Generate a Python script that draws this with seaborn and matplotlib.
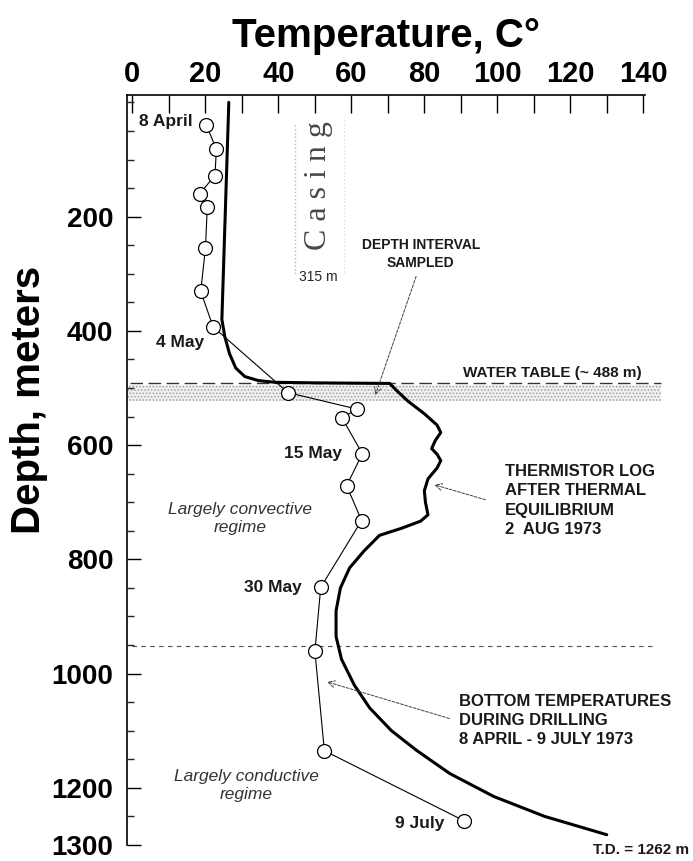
import matplotlib
matplotlib.use('Agg')
import matplotlib.pyplot as plt
import pandas as pd
import seaborn as sns
from matplotlib.ticker import MultipleLocator, FixedLocator

# bottom-hole temperatures measured while drilling (open circles)
drill_temp = [20.2, 23.0, 22.6, 18.4, 20.5, 20.0, 18.7, 22.1, 42.6, 61.6, 57.4,
              63.0, 58.7, 62.8, 51.6, 50.0, 52.6, 91.0]
drill_depth = [39, 82, 128, 160, 183, 255, 331, 393, 508, 537, 552,
               615, 671, 732, 849, 961, 1135, 1258]

# thermistor log after thermal equilibrium (thick line)
therm_temp = [26.4, 25.9, 25.4, 24.9, 24.5, 25.3, 26.6, 28.3, 30.8, 34.5, 39, 50,
              70.5, 72.5, 75.5, 80, 83.5, 84.5, 83, 82, 83.5, 84.5, 83.5, 81, 80,
              80.3, 81, 79, 74, 67.7, 63.5, 59.5, 57, 55.8, 55.8, 57.3, 60.8, 65,
              71, 78, 87, 99, 113, 130]
therm_depth = [0, 100, 200, 300, 380, 410, 440, 465, 480, 487, 490, 491,
               492, 505, 523, 545, 565, 578, 592, 606, 616, 627, 640, 659, 680,
               700, 722, 733, 745, 758, 785, 815, 850, 890, 935, 975, 1020, 1060,
               1100, 1135, 1175, 1215, 1250, 1282]

x_ticks = [0, 20, 40, 60, 80, 100, 120, 140]
y_ticks = [200, 400, 600, 800, 1000, 1200, 1300]

water_table = 491
sample_limit = 952

sns.set_theme(style='ticks')
plt.rcParams['font.family'] = ['Liberation Sans', 'DejaVu Sans']
plt.rcParams['hatch.linewidth'] = 0.7

fig = plt.figure(figsize=(6.93, 8.61), dpi=100)
ax = fig.add_axes([0.1833, 0.0186, 0.7475, 0.8711])

therm = pd.DataFrame({'temp': therm_temp, 'depth': therm_depth})
drill = pd.DataFrame({'temp': drill_temp, 'depth': drill_depth})

# stippled band under the water table + dashed lines
ax.axhspan(water_table + 4, water_table + 31, xmin=0.0, xmax=1.03,
           facecolor='0.94', edgecolor='0.62', hatch='.....', lw=0, zorder=0,
           clip_on=False)
ax.axhline(water_table, xmin=0.005, xmax=1.03, color='0.2', lw=1.0,
           ls=(0, (9, 4)), zorder=1, clip_on=False)
ax.axhline(sample_limit, xmin=0.01, xmax=1.02, color='0.3', lw=0.8,
           ls=(0, (4, 4)), zorder=1, clip_on=False)

sns.lineplot(data=therm, x='temp', y='depth', sort=False, estimator=None,
             color='black', lw=2.2, ax=ax, zorder=3)
sns.lineplot(data=drill, x='temp', y='depth', sort=False, estimator=None,
             color='black', lw=0.8, marker='o', markersize=10,
             markerfacecolor='white', markeredgecolor='black',
             markeredgewidth=0.9, ax=ax, zorder=4)

# casing
ax.plot([44.5, 44.5], [40, 300], ls=':', color='0.72', lw=1.0)
ax.plot([58.0, 58.0], [30, 300], ls=':', color='0.85', lw=1.0)
ax.text(51, 145, 'C a s i n g', rotation=90, ha='center', va='center',
        fontsize=23, color='0.28', family=['Liberation Serif', 'DejaVu Serif'])
ax.text(51, 305, '315 m', ha='center', va='center', fontsize=10, color='0.15')

# date labels
lab = dict(fontsize=12.5, fontweight='bold', color='0.1', va='center', ha='right')
ax.text(16.5, 33, '8 April', **lab)
ax.text(19.5, 420, '4 May', **lab)
ax.text(57.5, 615, '15 May', **lab)
ax.text(46.5, 849, '30 May', **lab)
ax.text(85.5, 1263, '9 July', **lab)

cap = dict(fontweight='bold', color='0.1', ha='left', va='center', linespacing=1.35)
ax.text(79, 265, 'DEPTH INTERVAL\nSAMPLED', fontsize=10, **{**cap, 'ha': 'center'})
ax.text(139.5, 474, 'WATER TABLE (~ 488 m)', fontsize=11, **{**cap, 'ha': 'right'})
ax.text(102, 697, 'THERMISTOR LOG\nAFTER THERMAL\nEQUILIBRIUM\n2  AUG 1973',
        fontsize=12, **cap)
ax.text(89.5, 1082, 'BOTTOM TEMPERATURES\nDURING DRILLING\n8 APRIL - 9 JULY 1973',
        fontsize=12, **cap)
ax.text(152.5, 1308, 'T.D. = 1262 m', fontsize=11, fontweight='bold',
        color='0.1', ha='right', va='center', clip_on=False)

ita = dict(fontsize=12.5, style='italic', color='0.2', ha='center', va='center',
           linespacing=1.25)
ax.text(29.5, 728, 'Largely convective\nregime', **ita)
ax.text(31.3, 1196, 'Largely conductive\nregime', **ita)

arr = dict(arrowstyle='->', lw=0.7, color='0.25', linestyle=(0, (3, 1.5)),
           mutation_scale=12)
ax.annotate('', xy=(66.3, 517), xytext=(78, 300), arrowprops=arr)
ax.annotate('', xy=(82, 668), xytext=(97.5, 697), arrowprops=arr)
ax.annotate('', xy=(52.6, 1013), xytext=(87.6, 1080), arrowprops=arr)

# axes styling
ax.set_xlim(-1.5, 140.5)
ax.set_ylim(1300, -13)
ax.xaxis.set_ticks_position('top')
ax.xaxis.set_label_position('top')
ax.xaxis.set_major_locator(FixedLocator(x_ticks))
ax.xaxis.set_minor_locator(MultipleLocator(10))
ax.yaxis.set_major_locator(FixedLocator(y_ticks))
ax.yaxis.set_minor_locator(MultipleLocator(50))
ax.tick_params(axis='x', which='both', direction='in', length=13, width=1.0,
               pad=5, labelsize=21, colors='black')
ax.tick_params(axis='y', which='major', direction='in', length=10, width=1.0,
               pad=10, labelsize=20, colors='black')
ax.tick_params(axis='y', which='minor', direction='in', length=5, width=1.0)
for lbl in ax.get_xticklabels() + ax.get_yticklabels():
    lbl.set_fontweight('bold')

for s in ['right', 'bottom']:
    ax.spines[s].set_visible(False)
for s in ['top', 'left']:
    ax.spines[s].set_color('black')
    ax.spines[s].set_linewidth(1.2)

ax.set_xlabel('')
ax.set_ylabel('Depth, meters', fontsize=29, fontweight='bold', color='black')
ax.yaxis.set_label_coords(-0.152, 0.594)
ax.text(0.5, 1.078, 'Temperature, C°', transform=ax.transAxes, ha='center',
        va='center', fontsize=29, fontweight='bold', color='black')

fig.savefig('out.png', dpi=100, facecolor='white')
